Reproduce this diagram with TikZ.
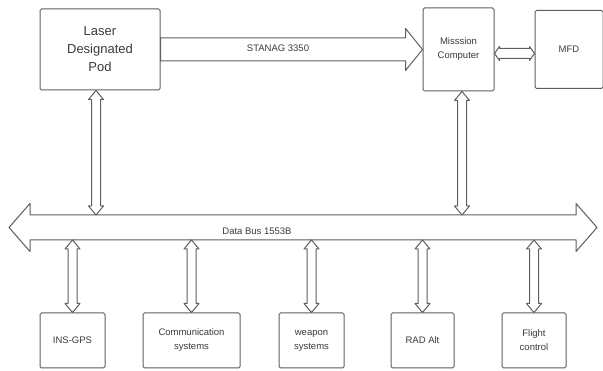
\documentclass[tikz,border=0pt]{standalone}
\usepackage{fontspec}
\setmainfont{Liberation Sans}
\usetikzlibrary{calc,positioning}
\definecolor{linegray}{HTML}{5E5E5E}
\definecolor{textgray}{HTML}{3A3A3A}
\tikzset{
	hollow/.style n args={3}{to path={
		-- ($(\tikztostart)!#3!(\tikztotarget)!#2!90:(\tikztotarget)$)
		-- ($(\tikztostart)!#3!(\tikztotarget)!#1!90:(\tikztotarget)$)
		-- ($(\tikztotarget)!#3!(\tikztostart)!#1!-90:(\tikztostart)$)
		-- ($(\tikztotarget)!#3!(\tikztostart)!#2!-90:(\tikztostart)$)
		-- (\tikztotarget)
		-- ($(\tikztotarget)!#3!(\tikztostart)!#2!90:(\tikztostart)$)
		-- ($(\tikztotarget)!#3!(\tikztostart)!#1!90:(\tikztostart)$)
		-- ($(\tikztostart)!#3!(\tikztotarget)!#1!-90:(\tikztotarget)$)
		-- ($(\tikztostart)!#3!(\tikztotarget)!#2!-90:(\tikztotarget)$)
		-- cycle \tikztonodes}},
	single/.style n args={3}{to path={
		($(\tikztostart)!#1!90:(\tikztotarget)$)
		-- ($(\tikztotarget)!#3!(\tikztostart)!#1!-90:(\tikztostart)$)
		-- ($(\tikztotarget)!#3!(\tikztostart)!#2!-90:(\tikztostart)$)
		-- (\tikztotarget)
		-- ($(\tikztotarget)!#3!(\tikztostart)!#2!90:(\tikztostart)$)
		-- ($(\tikztotarget)!#3!(\tikztostart)!#1!90:(\tikztostart)$)
		-- ($(\tikztostart)!#1!-90:(\tikztotarget)$)
		-- cycle \tikztonodes}}
}
\begin{document}
\begin{tikzpicture}[x=1pt, y=-1pt, line width=1pt, line join=round, draw=linegray,
	main/.style = {draw=linegray, rounded corners=1.5pt, align=center, inner sep=0pt, text=textgray, font=\fontsize{9.5}{14}\selectfont},
	lbl/.style = {text=textgray, font=\fontsize{9.5}{12}\selectfont},
	port/.style = {hollow={4.5pt}{7.5pt}{9pt}}]
		\useasboundingbox (0,0) rectangle (603,371);
		\node[main, minimum width=120pt, minimum height=81pt, font=\fontsize{13}{18}\selectfont] (pod) at (100,49.5) {Laser\\Designated\\Pod};
		\node[main, minimum width=71pt, minimum height=83pt] (mc) at (458.5,49.5) {Misssion\\Computer};
		\node[main, minimum width=68pt, minimum height=78pt] (mfd) [right=40pt of mc] {MFD};
		\node[main, minimum width=65pt, minimum height=55pt] (ins) at (72.5,340.5) {INS-GPS};
		\node[main, minimum width=97pt, minimum height=55pt] (com) at (191.5,340.5) {Communication\\systems};
		\node[main, minimum width=65pt, minimum height=55pt] (wpn) at (311.5,340.5) {weapon\\systems};
		\node[main, minimum width=63pt, minimum height=55pt] (rad) at (422.5,340.5) {RAD Alt};
		\node[main, minimum width=64pt, minimum height=55pt] (fcs) at (534,340.5) {Flight\\control};
		\coordinate (busL) at (9,227.5);
		\coordinate (busR) at (597,227.5);
		\coordinate (bustop) at (0,215);
		\coordinate (busbot) at (0,240);
		\coordinate (podport) at ([xshift=-4pt]pod.south);
		\coordinate (mcport) at ([xshift=3.5pt]mc.south);
		\coordinate (mcside) at ([yshift=-4pt]mc.east);
		\draw[hollow={12.5pt}{24pt}{21pt}] (busL) to (busR);
		\node[lbl] (buslbl) at (257,231) {Data Bus 1553B};
		\draw[single={11.5pt}{21pt}{17pt}] (pod.east) to (mc.west);
		\node[lbl] (stanag) at (278,48) {STANAG 3350};
		\draw[hollow={5pt}{7pt}{5pt}] (mcside) to (mcside -| mfd.west);
		\draw[port] (podport) to (podport |- bustop);
		\draw[port] (mcport) to (mcport |- bustop);
		\foreach \n in {ins,com,wpn,rad,fcs}
			\draw[port] (\n.north |- busbot) to (\n.north);
	\end{tikzpicture}
\end{document}
